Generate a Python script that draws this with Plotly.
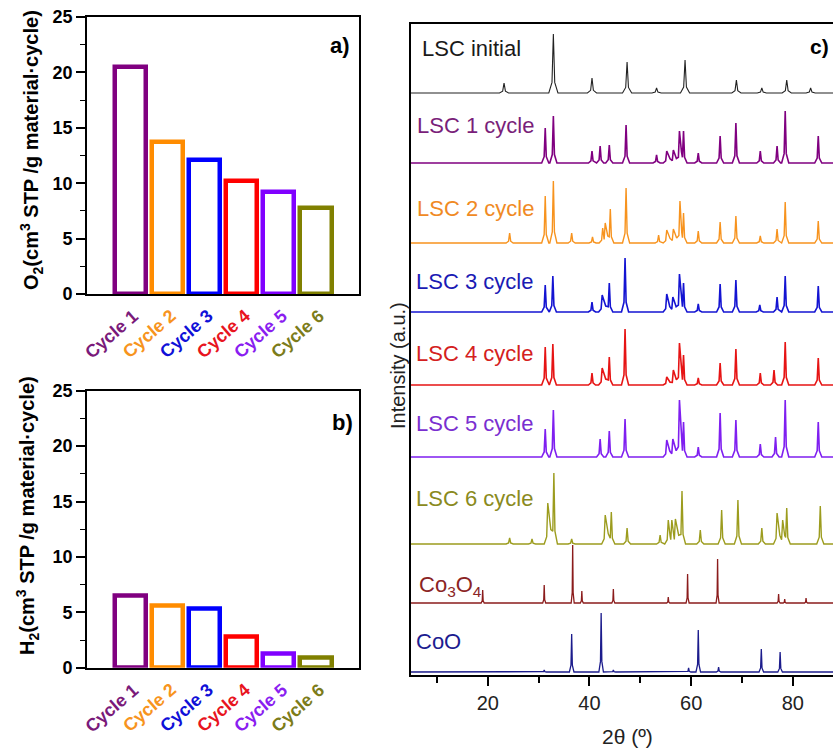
import plotly.graph_objects as go

# ---------------- data ----------------
cycles = ["Cycle 1", "Cycle 2", "Cycle 3", "Cycle 4", "Cycle 5", "Cycle 6"]
o2_values = [20.5, 13.7, 12.1, 10.2, 9.2, 7.8]
h2_values = [6.5, 5.6, 5.3, 2.8, 1.3, 0.9]

xrd_labels = ["LSC initial", "LSC 1 cycle", "LSC 2 cycle", "LSC 3 cycle", "LSC 4 cycle",
              "LSC 5 cycle", "LSC 6 cycle", "Co<sub>3</sub>O<sub>4</sub>", "CoO"]

# peak positions (2theta, deg) and peak heights (a.u.)
initial_pos = [23.2, 32.9, 40.5, 47.4, 53.2, 58.8, 68.9, 73.9, 78.8, 83.5]
initial_int = [10, 59, 15, 31, 5, 33, 13, 5, 13, 5]

c1_pos = [31.3, 32.9, 40.5, 42.1, 43.9, 47.2, 53.2, 55.2, 56.5, 57.7, 58.5, 61.4, 65.7, 68.8, 73.6, 76.9, 78.5, 85.0]
c1_int = [35, 47, 12, 17, 18, 38, 8, 12, 13, 32, 32, 10, 27, 40, 12, 17, 52, 27]

c2_pos = [24.3, 31.3, 32.9, 36.5, 40.6, 42.6, 43.1, 44.1, 47.2, 53.6, 55.2, 56.5, 57.8, 58.5, 61.4, 65.7, 68.8, 73.6, 76.9, 78.5, 85.0]
c2_int = [10, 47, 62, 10, 6, 15, 20, 34, 55, 8, 13, 14, 42, 30, 12, 21, 27, 7, 14, 41, 22]

c3_pos = [31.3, 32.8, 40.5, 42.5, 43.9, 47.0, 55.2, 56.4, 57.7, 58.5, 61.4, 65.7, 68.8, 73.5, 76.9, 78.5, 85.0]
c3_int = [27, 36, 10, 17, 29, 54, 18, 15, 38, 29, 8, 28, 32, 7, 15, 36, 26]

c4_pos = [31.3, 32.8, 40.5, 42.5, 43.9, 47.0, 55.2, 56.5, 57.7, 58.5, 61.4, 65.7, 68.8, 73.6, 76.3, 78.5, 85.0]
c4_int = [38, 41, 12, 17, 28, 56, 8, 15, 42, 30, 7, 22, 36, 12, 15, 43, 27]

c5_pos = [31.3, 32.9, 42.1, 43.9, 47.0, 55.2, 56.4, 57.7, 58.5, 61.4, 65.7, 68.8, 73.6, 76.6, 78.5, 85.0]
c5_int = [28, 47, 18, 26, 38, 17, 18, 57, 35, 10, 44, 37, 13, 20, 57, 35]

c6_pos = [24.3, 28.7, 31.8, 33.0, 36.5, 43.1, 44.3, 47.4, 53.9, 55.5, 56.2, 56.9, 58.2, 61.8, 66.0, 69.2, 73.9, 76.9, 78.0, 78.8, 85.4]
c6_int = [6, 5, 41, 71, 5, 29, 32, 16, 9, 24, 24, 25, 53, 14, 34, 44, 16, 31, 24, 36, 38]

co3o4_pos = [19.0, 31.1, 36.7, 38.5, 44.7, 55.5, 59.3, 65.2, 77.2, 78.4, 82.6]
co3o4_int = [13, 18, 58, 12, 14, 6, 29, 44, 9, 4, 5]

coo_pos = [31.1, 36.5, 42.3, 44.7, 59.5, 61.4, 65.4, 73.8, 77.5]
coo_int = [2, 38, 59, 2, 4, 42, 5, 23, 20]

# vertical stacking offsets of the patterns (a.u.)
xrd_offsets = [582, 512, 432, 363, 290, 218, 131, 72, 3]

# ---------------- styles ----------------
FONT = "Liberation Sans, Arial, sans-serif"
cycle_colors = ["#800080", "#FF8C00", "#0000FF", "#FF0000", "#8000FF", "#808000"]
label_colors = ["#7A1A7A", "#F7941D", "#1010D8", "#E8141E", "#8A1EF0", "#7C7C1A"]
xrd_line_colors = ["#222222", "#800080", "#F7931E", "#1414D2", "#E61414", "#7F1FF0",
                   "#9C9C1E", "#8B1C1C", "#1C1C8C"]
xrd_text_colors = ["#1a1a1a", "#7A1F7A", "#F08A24", "#1A1AB4", "#D42020", "#7A2FD0",
                   "#8A8A20", "#8B2424", "#1C1C90"]
xrd_halfwidth = [0.9, 0.7, 0.7, 0.7, 0.7, 0.7, 0.7, 0.3, 0.45]
xrd_linewidth = [1.1, 1.6, 1.4, 1.6, 1.6, 1.6, 1.4, 1.3, 1.3]


def profile(pos, inten, hw, x0=4.0, x1=90.0):
    xs, ys = [x0], [0.0]
    for p, h in sorted(zip(pos, inten)):
        left = p - hw
        if xs[-1] > left:  # overlapping with previous peak -> valley between
            xs.pop(); ys.pop(); xs.pop(); ys.pop()
            prev_p, prev_h = xs[-1], ys[-1]
            xs.append((prev_p + p) / 2); ys.append(0.35 * min(prev_h, h))
        else:
            xs.append(left); ys.append(0.0)
        xs += [p - 0.3 * hw, p, p + 0.3 * hw, p + hw]
        ys += [0.18 * h, h, 0.18 * h, 0.0]
    xs.append(x1); ys.append(0.0)
    return xs, ys


fig = go.Figure()

# bar panels
for vals, xa, ya in [(o2_values, "x", "y"), (h2_values, "x2", "y2")]:
    fig.add_trace(go.Bar(
        x=list(range(len(cycles))), y=vals, width=0.84, textposition="none",
        marker=dict(color="white", line=dict(color=cycle_colors, width=4.5)),
        xaxis=xa, yaxis=ya, hoverinfo="skip"))

# XRD patterns
patterns = [(initial_pos, initial_int), (c1_pos, c1_int), (c2_pos, c2_int), (c3_pos, c3_int),
            (c4_pos, c4_int), (c5_pos, c5_int), (c6_pos, c6_int), (co3o4_pos, co3o4_int),
            (coo_pos, coo_int)]
for i, (pos, inten) in enumerate(patterns):
    xs, ys = profile(pos, inten, xrd_halfwidth[i])
    ys = [v + xrd_offsets[i] for v in ys]
    fig.add_trace(go.Scatter(x=xs, y=ys, mode="lines",
                             line=dict(color=xrd_line_colors[i], width=xrd_linewidth[i]),
                             xaxis="x3", yaxis="y3", hoverinfo="skip"))

bar_x = dict(range=[-1.16, 6.16], tickvals=list(range(6)), showticklabels=False,
             showline=True, mirror=True, linecolor="black", linewidth=1.6, ticks="",
             showgrid=False, zeroline=False, automargin=False, fixedrange=True)
bar_y = dict(range=[0, 25], dtick=5, tick0=0, ticks="outside", ticklen=9, tickwidth=1.5,
             tickcolor="black", showline=True, mirror=True, linecolor="black", linewidth=1.6,
             showgrid=False, zeroline=False,
             tickfont=dict(family=FONT, size=18, color="black", weight="bold"),
             minor=dict(dtick=2.5, ticks="outside", ticklen=5, tickwidth=1.2, tickcolor="black"),
             automargin=False)

fig.update_layout(
    width=833, height=748, margin=dict(l=0, r=0, t=0, b=0),
    paper_bgcolor="white", plot_bgcolor="white", showlegend=False, bargap=0,
    xaxis=dict(domain=[87 / 833, 359 / 833], anchor="y", **bar_x),
    yaxis=dict(domain=[1 - 294 / 748, 1 - 17 / 748], anchor="x", **bar_y),
    xaxis2=dict(domain=[87 / 833, 359 / 833], anchor="y2", **bar_x),
    yaxis2=dict(domain=[1 - 667.7 / 748, 1 - 390.7 / 748], anchor="x2", **bar_y),
    xaxis3=dict(domain=[411 / 833, 1.0], anchor="y3", range=[4.9, 87.9], dtick=20, tick0=0,
                ticks="outside", ticklen=9, tickwidth=1.5, tickcolor="black",
                minor=dict(dtick=10, ticks="outside", ticklen=6, tickwidth=1.5, tickcolor="black"),
                showline=True, mirror=True, linecolor="black", linewidth=1.6,
                showgrid=False, zeroline=False,
                tickfont=dict(family=FONT, size=20, color="#222"), automargin=False),
    yaxis3=dict(domain=[1 - 675 / 748, 1 - 24 / 748], anchor="x3", range=[0, 651],
                showticklabels=False, ticks="", showline=True, linecolor="black", linewidth=1.6,
                showgrid=False, zeroline=False, automargin=False),
)

ann = []
# category labels under the bars (placed on the category axis)
for xa, ya in [("x", "y"), ("x2", "y2")]:
    for i, (name, col) in enumerate(zip(cycles, label_colors)):
        ann.append(dict(text=name, x=i, y=0, xref=xa, yref=ya, xanchor="right",
                        yanchor="top", xshift=15, yshift=-9, textangle=-41,
                        font=dict(size=18, color=col, weight="bold")))
# panel letters
ann.append(dict(text="a)", x=340 / 833, y=1 - 45 / 748, font=dict(size=22, weight="bold")))
ann.append(dict(text="b)", x=342 / 833, y=1 - 422 / 748, font=dict(size=22, weight="bold")))
ann.append(dict(text="c)", x=819 / 833, y=1 - 46 / 748, font=dict(size=21, weight="bold")))
# bar y titles
ann.append(dict(text="O<sub>2</sub>(cm<sup>3</sup> STP /g material·cycle)", x=31 / 833,
                y=1 - 150 / 748, textangle=-90, font=dict(size=20, weight="bold")))
ann.append(dict(text="H<sub>2</sub>(cm<sup>3</sup> STP /g material·cycle)", x=27 / 833,
                y=1 - 516 / 748, textangle=-90, font=dict(size=20, weight="bold")))
# XRD axis titles
ann.append(dict(text="Intensity (a.u.)", x=398 / 833, y=1 - 366 / 748, textangle=-90,
                font=dict(size=20, color="#222")))
ann.append(dict(text="2θ (º)", x=627 / 833, y=1 - 736 / 748, font=dict(size=21, color="#222")))
# XRD pattern labels
label_y = [48, 125, 208, 281, 353, 423, 498, 586, 641]
label_x = [420, 415, 415, 414, 414, 414, 414, 417, 414]
for i, t in enumerate(xrd_labels):
    ann.append(dict(text=t, x=label_x[i] / 833, y=1 - label_y[i] / 748, xanchor="left",
                    font=dict(size=22, color=xrd_text_colors[i])))

for a in ann:
    a.setdefault("xanchor", "center")
    a.setdefault("yanchor", "middle")
    a.setdefault("xref", "paper")
    a.setdefault("yref", "paper")
    a["showarrow"] = False
    f = a["font"]
    a["font"] = dict(family=FONT, color=f.get("color", "black"), size=f["size"],
                     weight=f.get("weight", "normal"))
fig.update_layout(annotations=ann)

fig.write_html("out.html")
